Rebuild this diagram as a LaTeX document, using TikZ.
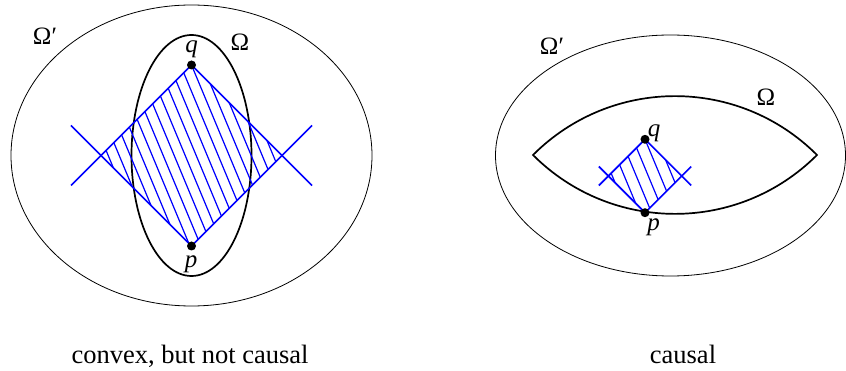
\documentclass[tikz,border=0pt]{standalone}
\usepackage{fontspec}
\setmainfont{Liberation Serif}
\usepackage{tikz}
\usetikzlibrary{calc}

\begin{document}
\begin{tikzpicture}[
    x=1pt, y=-1pt,
    font=\fontsize{25}{29}\selectfont,
    outer/.style={draw, line width=0.8pt},
    region/.style={draw, line width=1.7pt},
    cone/.style={draw=blue, line width=1.7pt},
    hatch/.style={draw=blue, line width=1.2pt},
    pt/.style={circle, fill=black, inner sep=0pt, minimum size=9pt},
    lbl/.style={inner sep=0pt},
    caption/.style={anchor=base, font=\fontsize{26.5}{30}\selectfont}
]
\useasboundingbox (0,0) rectangle (846,371);

% Left picture: convex, but not causal
\draw[outer] (191.5,155.5) ellipse [x radius=180.5, y radius=150.5];
\draw[region] (191.5,155.5) ellipse [x radius=60, y radius=120.5];

\coordinate (q1) at (191.5,65);
\coordinate (p1) at (191.5,246);
\coordinate (l1) at (101,155.5);
\coordinate (r1) at (282,155.5);

% hatching of the diamond
\begin{scope}
\clip (q1) -- (r1) -- (p1) -- (l1) -- cycle;
\foreach \k in {-12,...,6}
  \draw[hatch] ($(q1)+(\k*11,0)+(-40,-96)$) -- ++(120,288);
\end{scope}

% light cones
\draw[cone] (q1) -- ($(l1)+(-30,30)$);
\draw[cone] (q1) -- ($(r1)+(30,30)$);
\draw[cone] (p1) -- ($(l1)+(-30,-30)$);
\draw[cone] (p1) -- ($(r1)+(30,-30)$);

\node[pt] (q1dot) at (q1) {};
\node[pt] (p1dot) at (p1) {};
\node[lbl] (q1lab) at (191.5,49.5) {\textit{q}};
\node[lbl] (p1lab) at (191,264) {\textit{p}};
\node[lbl] (om1) at (240,42) {Ω};
\node[lbl] (omp1) at (45,36) {Ω′};

\node[caption] (cap1) at (190,363) {convex, but not causal};

% Right picture: causal
\draw[outer] (670.5,155.5) ellipse [x radius=175, y radius=120.5];

\coordinate (lt) at (533,155);
\coordinate (rt) at (817,155);
\draw[region] (lt) .. controls +(78.5,-78.5) and +(-78.5,-78.5) .. (rt)
  .. controls +(-78.5,78.5) and +(78.5,78.5) .. (lt) -- cycle;

\coordinate (q2) at (645,139.3);
\coordinate (p2) at (645,212.7);
\coordinate (l2) at (608.3,176);
\coordinate (r2) at (681.7,176);

% hatching of the diamond
\begin{scope}
\clip (q2) -- (r2) -- (p2) -- (l2) -- cycle;
\foreach \k in {-5,...,2}
  \draw[hatch] ($(q2)+(\k*12,0)+(-20,-48)$) -- ++(60,144);
\end{scope}

% light cones
\draw[cone] (q2) -- ($(l2)+(-9.5,9.5)$);
\draw[cone] (q2) -- ($(r2)+(9.5,9.5)$);
\draw[cone] (p2) -- ($(l2)+(-9.5,-9.5)$);
\draw[cone] (p2) -- ($(r2)+(9.5,-9.5)$);

\node[pt] (q2dot) at (q2) {};
\node[pt] (p2dot) at (p2) {};
\node[lbl] (q2lab) at (654,133) {\textit{q}};
\node[lbl] (p2lab) at (653.5,227) {\textit{p}};
\node[lbl] (om2) at (766,97.5) {Ω};
\node[lbl] (omp2) at (552,46) {Ω′};

\node[caption] (cap2) at (683,363) {causal};

\end{tikzpicture}
\end{document}
